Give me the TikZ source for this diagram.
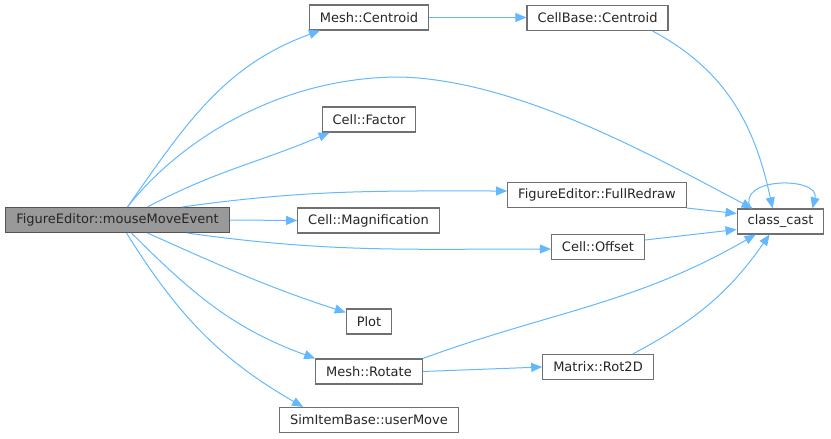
\documentclass[tikz,border=0pt]{standalone}
\usepackage{fontspec}
\setmainfont{DejaVu Sans}
\usetikzlibrary{arrows.meta}

\definecolor{edgeblue}{HTML}{63B8FF}
\definecolor{boxgray}{HTML}{707070}
\definecolor{mainfill}{HTML}{999999}

\begin{document}
\begin{tikzpicture}[x=1pt, y=1pt,
            every node/.style={font=\fontsize{13}{15}\selectfont},
            func/.style={draw=boxgray, fill=white, rectangle, line width=1.1pt, minimum height=25pt, inner xsep=10.5pt, inner ysep=0pt, text=black!85},
            current/.style={func, fill=mainfill, draw=boxgray!75!black},
            call/.style={draw=edgeblue, line width=1pt, -{Triangle[length=11pt,width=9pt]}}]

            \useasboundingbox (0,0) rectangle (831,-439);

            % Nodes
            \node (caller) [current] at (117.5,-220) {FigureEditor::mouseMoveEvent};
            \node (meshcentroid) [func] at (369,-17.5) {Mesh::Centroid};
            \node (cellbasecentroid) [func] at (597.5,-18) {CellBase::Centroid};
            \node (cellfactor) [func] at (369,-119.5) {Cell::Factor};
            \node (fullredraw) [func] at (597,-195) {FigureEditor::FullRedraw};
            \node (magnification) [func] at (368.5,-220.5) {Cell::Magnification};
            \node (offset) [func] at (598,-247) {Cell::Offset};
            \node (plot) [func] at (369,-321.5) {Plot};
            \node (meshrotate) [func] at (369,-371.5) {Mesh::Rotate};
            \node (rot2d) [func] at (598,-367) {Matrix::Rot2D};
            \node (usermove) [func] at (369,-420) {SimItemBase::userMove};
            \node (classcast) [func] at (780.5,-221.5) {class\_cast};

            % Calls from mouseMoveEvent
            \draw [call] ([xshift=10pt]caller.north) to [out=55, in=200] ([xshift=-49pt]meshcentroid.south);
            \draw [call] ([xshift=10pt]caller.north) .. controls (180,-140) and (280,-77) .. (400,-77)
                .. controls (520,-80) and (660,-160) .. ([xshift=16pt]classcast.north west);
            \draw [call] ([xshift=30pt]caller.north) to [out=28, in=203] ([xshift=8pt]cellfactor.south west);
            \draw [call] ([xshift=65pt]caller.north) to [out=8, in=180] ([yshift=4pt]fullredraw.west);
            \draw [call] (caller.east) -- (magnification.west);
            \draw [call] ([xshift=70pt]caller.south) to [out=-8, in=180] ([yshift=-2pt]offset.west);
            \draw [call] ([xshift=30pt]caller.south) to [out=-24, in=162] ([yshift=-4pt]plot.north west);
            \draw [call] ([xshift=14pt]caller.south) to [out=-45, in=160] (meshrotate.north west);
            \draw [call] ([xshift=9pt]caller.south) to [out=-58, in=150] ([xshift=24pt]usermove.north west);

            % Further calls
            \draw [call] (meshcentroid.east) -- (cellbasecentroid.west |- meshcentroid.east);
            \draw [call] ([xshift=-16pt]cellbasecentroid.south east) to [out=-28, in=102] ([xshift=36pt]classcast.north west);
            \draw [call] (fullredraw.south east) -- ([yshift=8pt]classcast.west);
            \draw [call] ([yshift=7pt]offset.east) -- ([yshift=-8pt]classcast.west);
            \draw [call] (meshrotate.north east) to [out=20, in=210] ([xshift=19pt]classcast.south west);
            \draw [call] (meshrotate.east) -- (rot2d.west);
            \draw [call] ([xshift=-21pt]rot2d.north east) to [out=28, in=235] ([xshift=33pt]classcast.south west);

            % class_cast calls itself
            \draw [call] ([xshift=14pt]classcast.north west) .. controls +(-15,32) and +(8,32) .. ([xshift=-12pt]classcast.north east);
        \end{tikzpicture}
\end{document}
